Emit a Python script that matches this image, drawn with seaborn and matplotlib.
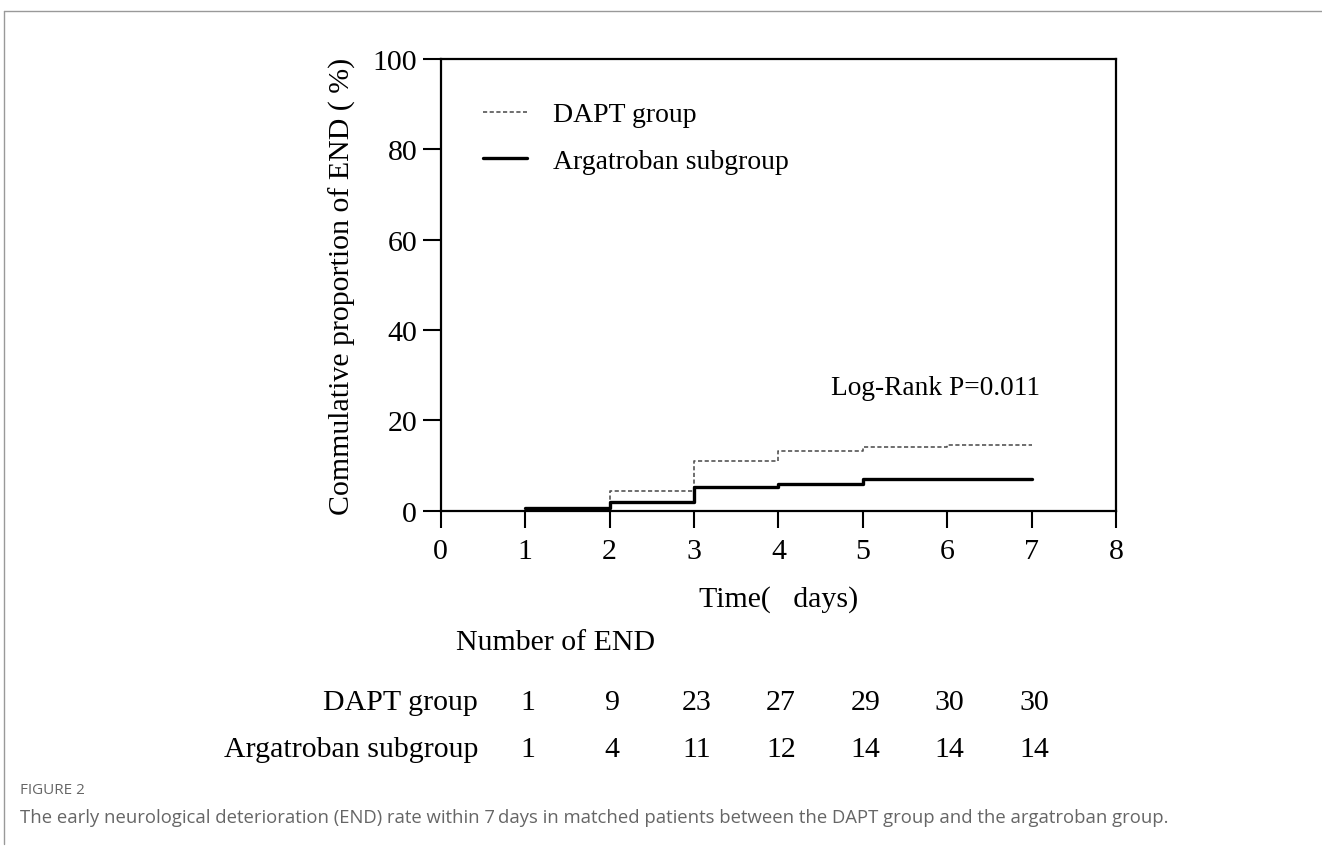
import matplotlib
matplotlib.use('Agg')
import matplotlib.pyplot as plt
import matplotlib.transforms as mtransforms
from matplotlib.lines import Line2D
import pandas as pd
import seaborn as sns

# Values
days = [1, 2, 3, 4, 5, 6, 7]
dapt_pct = [0.5, 4.3, 11.1, 13.2, 14.0, 14.5, 14.5]
arga_pct = [0.5, 1.9, 5.3, 6.0, 7.0, 7.0, 7.0]
dapt_counts = [1, 9, 23, 27, 29, 30, 30]
arga_counts = [1, 4, 11, 12, 14, 14, 14]
group_names = ['DAPT group', 'Argatroban subgroup']
x_ticks = [0, 1, 2, 3, 4, 5, 6, 7, 8]
y_ticks = [0, 20, 40, 60, 80, 100]

sns.set_style('ticks')
plt.rcParams['font.family'] = ['Liberation Serif', 'DejaVu Serif']
plt.rcParams['text.color'] = 'black'
plt.rcParams['axes.labelcolor'] = 'black'
plt.rcParams['xtick.color'] = 'black'
plt.rcParams['ytick.color'] = 'black'

df = pd.DataFrame({
    'day': days * 2,
    'pct': dapt_pct + arga_pct,
    'group': [group_names[0]] * len(days) + [group_names[1]] * len(days),
})

fig = plt.figure(figsize=(13.22, 8.54), dpi=100)
ax = fig.add_axes([0.3334, 0.4008, 0.5108, 0.5289])

# Step curves
sns.lineplot(data=df[df['group'] == group_names[0]], x='day', y='pct', ax=ax,
             drawstyle='steps-post', color='#555555', lw=1.2,
             linestyle=(0, (2.5, 1.5)), label=group_names[0])
sns.lineplot(data=df[df['group'] == group_names[1]], x='day', y='pct', ax=ax,
             drawstyle='steps-post', color='black', lw=2.4,
             label=group_names[1])

ax.set_xlim(0, 8)
ax.set_ylim(0, 100)
ax.set_xticks(x_ticks)
ax.set_yticks(y_ticks)
for s in ax.spines.values():
    s.set_visible(True)
    s.set_linewidth(1.6)
    s.set_color('black')
ax.tick_params(axis='y', direction='out', length=13, width=1.5, labelsize=21.5, pad=4)
ax.tick_params(axis='x', direction='out', length=12, width=1.5, labelsize=21.5, pad=8)

ax.set_ylabel('Commulative proportion of END ( %)', fontsize=21.5, labelpad=12)
ax.set_xlabel('Time(   days)', fontsize=21.5, labelpad=15)

leg = ax.legend(loc='upper left', bbox_to_anchor=(0.062, 0.905), frameon=False,
                fontsize=20, handlelength=1.6, handletextpad=0.95,
                labelspacing=0.75, borderpad=0, borderaxespad=0)

ax.text(0.578, 0.272, 'Log-Rank P=0.011', transform=ax.transAxes,
        fontsize=19.7, ha='left', va='center')

# Number-at-event table under the axis
blend = mtransforms.blended_transform_factory(ax.transData, fig.transFigure)
fig.text(0.42, 1 - 643 / 854, 'Number of END', fontsize=21.5, ha='center', va='center')
row_y = [1 - 703 / 854, 1 - 750 / 854]
for name, counts, yy in zip(group_names, [dapt_counts, arga_counts], row_y):
    fig.text(0.3616, yy, name, fontsize=21.5, ha='right', va='center')
    for d, c in zip(days, counts):
        ax.text(d + 0.03, yy, str(c), transform=blend, fontsize=21.5,
                ha='center', va='center', clip_on=False)

# Caption
fig.text(0.015, 1 - 791 / 854, 'FIGURE 2', fontsize=11, color='#666666',
         family='Open Sans', ha='left', va='center')
fig.text(0.015, 1 - 818 / 854,
         'The early neurological deterioration (END) rate within 7\u2009days in matched patients '
         'between the DAPT group and the argatroban group.',
         fontsize=13.3, color='#666666', family=['Open Sans', 'DejaVu Sans'],
         ha='left', va='center')

# Page frame
fig.add_artist(Line2D([0.003, 1.0], [0.986, 0.986], transform=fig.transFigure,
                      color='#999999', lw=1))
fig.add_artist(Line2D([0.003, 0.003], [0.986, 0.01], transform=fig.transFigure,
                      color='#999999', lw=1))

fig.savefig('out.png', dpi=100)
